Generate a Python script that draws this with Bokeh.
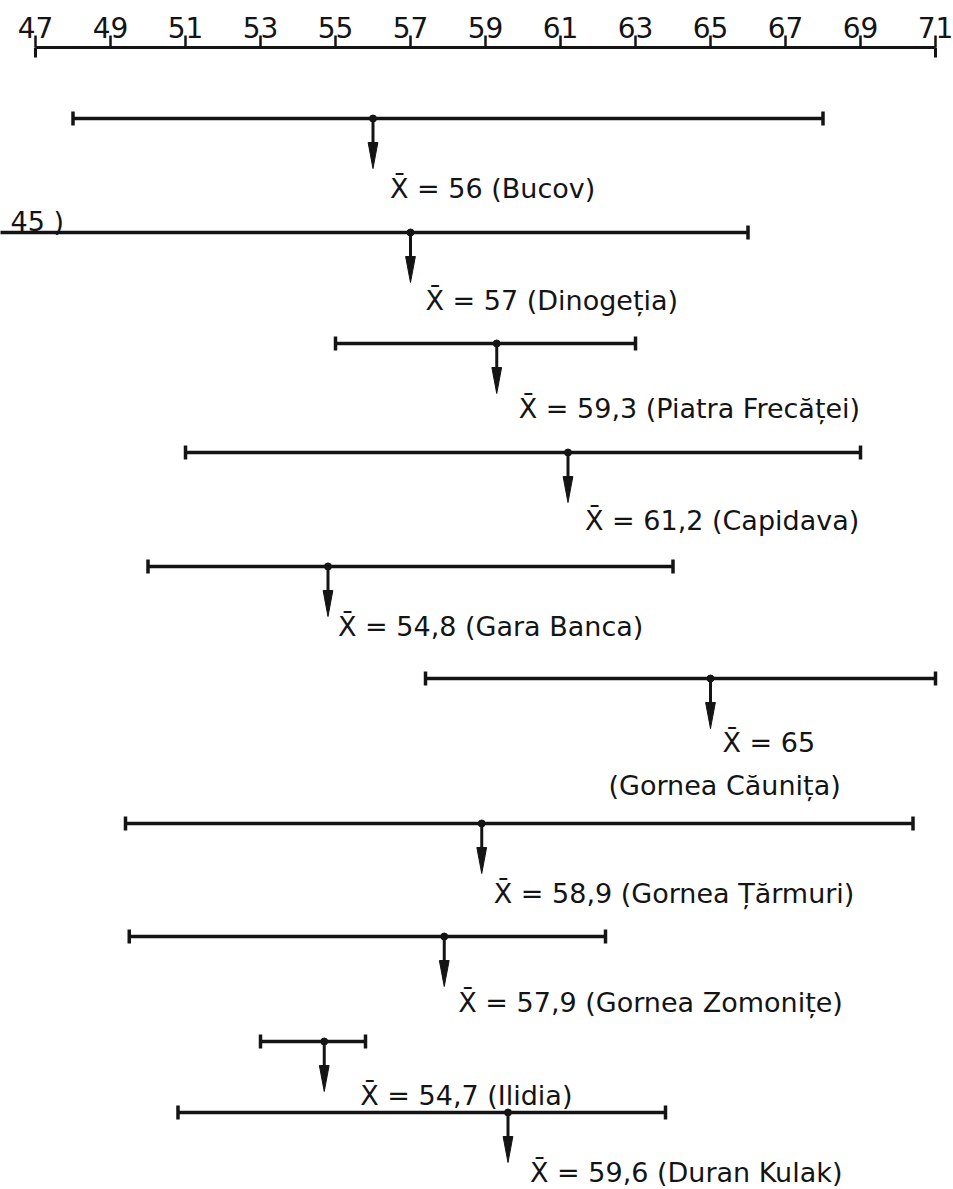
from bokeh.plotting import figure
from bokeh.models import Range1d, FixedTicker, ColumnDataSource, Label
from bokeh.core.properties import value
from bokeh.embed import file_html
from bokeh.resources import INLINE

# ---------------- data ----------------
sites = ["Bucov", "Dinogeția", "Piatra Frecăței", "Capidava", "Gara Banca",
         "Gornea Căunița", "Gornea Țărmuri", "Gornea Zomonițe", "Ilidia", "Duran Kulak"]
mins = [48, 45, 55, 51, 50, 57.4, 49.4, 49.5, 53, 50.8]
maxs = [68, 66, 63, 69, 64, 71, 70.4, 62.2, 55.8, 63.8]
means = [56, 57, 59.3, 61.2, 54.8, 65, 58.9, 57.9, 54.7, 59.6]
mean_texts = ["56", "57", "59,3", "61,2", "54,8", "65", "58,9", "57,9", "54,7", "59,6"]
tick_values = [47, 49, 51, 53, 55, 57, 59, 61, 63, 65, 67, 69, 71]
tick_labels = ["47", "49", "51", "53", "55", "57", "59", "61", "63", "65", "67", "69", "71"]
dinogetia_min_text = "45 )"

# ---------------- layout (page-pixel rows) ----------------
row_y = [118, 232, 343, 452, 566, 678, 823, 936, 1041, 1112]
label_dy = [70, 68, 65, 68, 60, 64, 70, 66, 54, 60]
label_dx = [17, 15, 22, 17, 10, 12, 12, 14, 36, 22]

FONT = "DejaVu Sans"
INK = "#141414"
LABEL_SIZE = "27px"

label_texts = []
for i, s in enumerate(sites):
    xbar = "X\u0304"
    if i == 5:
        label_texts.append(f"{xbar} = {mean_texts[i]}")
    else:
        label_texts.append(f"{xbar} = {mean_texts[i]} ({s})")

src = ColumnDataSource(dict(
    site=sites, lo=mins, hi=maxs, mean=means, y=row_y,
    cap_top=[y - 7 for y in row_y], cap_bot=[y + 7 for y in row_y],
    arrow_end=[y + 30 for y in row_y],
    label=label_texts, label_y=[y + d for y, d in zip(row_y, label_dy)],
    dx=label_dx,
))

head_xs = [[m - 0.13, m + 0.13, m] for m in means]
head_ys = [[y + 24, y + 24, y + 50] for y in row_y]

p = figure(width=953, height=1189, output_backend="svg", toolbar_location=None,
           x_range=Range1d(46.0667, 71.48), y_range=Range1d(1189, 47),
           x_axis_location="above", y_axis_location=None,
           min_border_left=0, min_border_right=0, min_border_bottom=0, min_border_top=47,
           background_fill_color="white", border_fill_color="white")
p.outline_line_color = None
p.xgrid.visible = False
p.ygrid.visible = False

ax = p.xaxis[0]
ax.ticker = FixedTicker(ticks=tick_values)
ax.major_label_overrides = {v: t for v, t in zip(tick_values, tick_labels)}
ax.bounds = (tick_values[0], tick_values[-1])
ax.axis_line_width = 3
ax.axis_line_color = INK
ax.major_tick_line_width = 2.5
ax.major_tick_line_color = INK
ax.major_tick_out = 12
ax.major_tick_in = 0
ax.minor_tick_line_color = None
ax.major_label_standoff = -2
ax.major_label_text_font = FONT
ax.major_label_text_font_size = "28px"
ax.major_label_text_color = INK

# end caps of the scale
p.segment(x0=[tick_values[0], tick_values[-1]], y0=[47, 47],
          x1=[tick_values[0], tick_values[-1]], y1=[57, 57],
          line_width=3, line_color=INK)

# range bars
p.segment(x0="lo", y0="y", x1="hi", y1="y", source=src, line_width=3.5, line_color=INK)
p.segment(x0="lo", y0="cap_top", x1="lo", y1="cap_bot", source=src, line_width=3.5, line_color=INK)
p.segment(x0="hi", y0="cap_top", x1="hi", y1="cap_bot", source=src, line_width=3.5, line_color=INK)
# mean marker and arrow
p.scatter(x="mean", y="y", source=src, size=7, color=INK)
p.segment(x0="mean", y0="y", x1="mean", y1="arrow_end", source=src, line_width=3, line_color=INK)
p.patches(xs=head_xs, ys=head_ys, fill_color=INK, line_color=INK, line_width=1)

# labels
p.text(x="mean", y="label_y", text="label", source=src, x_offset="dx",
       text_font=value(FONT), text_font_size=LABEL_SIZE, text_color=INK,
       text_baseline="alphabetic", text_align="left")

p.add_layout(Label(x=means[5], y=785, x_offset=-102, text=f"({sites[5]})",
                   text_font=FONT, text_font_size=LABEL_SIZE, text_color=INK,
                   text_baseline="alphabetic"))
p.add_layout(Label(x=10, y=221, x_units="screen", text=dinogetia_min_text,
                   text_font=FONT, text_font_size=LABEL_SIZE, text_color=INK,
                   text_baseline="alphabetic"))

open("out.html", "w").write(file_html(p, INLINE))
